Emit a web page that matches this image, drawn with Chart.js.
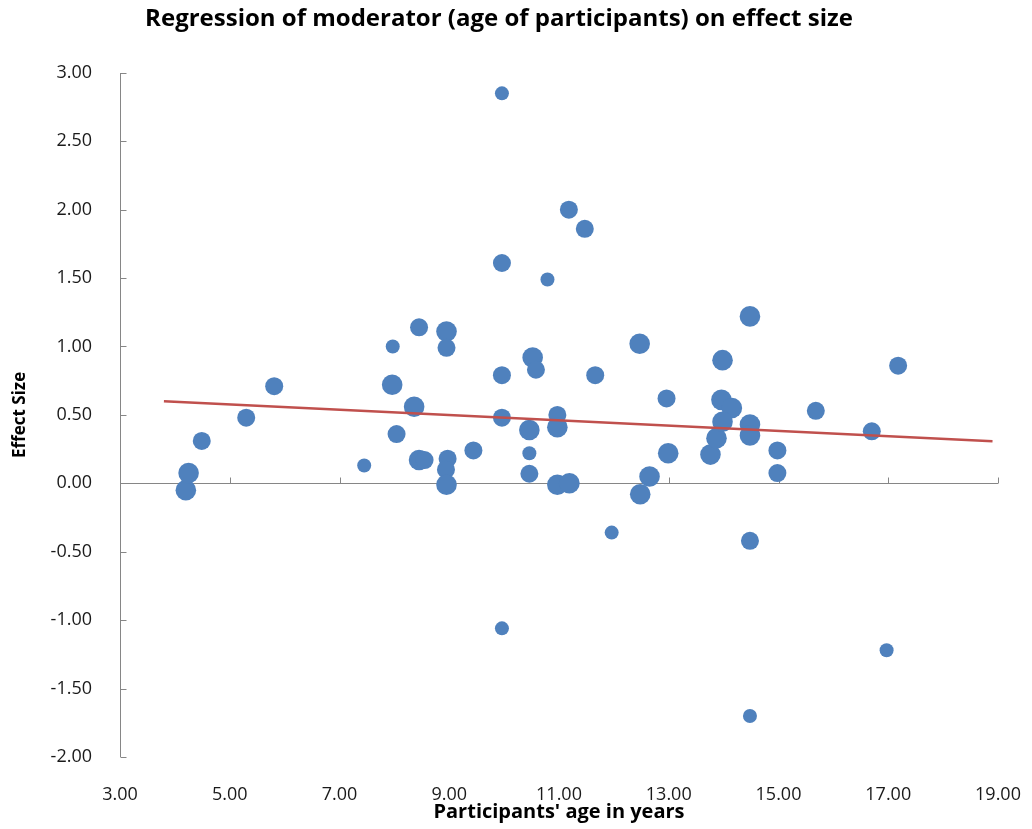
<!DOCTYPE html>
<html>
<head>
<meta charset="utf-8">
<title>Regression of moderator on effect size</title>
<script src="https://cdn.jsdelivr.net/npm/chart.js@4.4.1/dist/chart.umd.min.js"></script>
<style>
  html, body { margin: 0; padding: 0; background: #fff; }
  #wrap { width: 1032px; height: 829px; position: relative; }
</style>
</head>
<body>
<div id="wrap"><canvas id="ageChart"></canvas></div>
<script>
// ── Data ──────────────────────────────────────────
const ageYears = [
  4.20, 4.25, 4.49, 5.30, 5.81, 7.45, 7.97, 7.96, 8.04, 8.36,
  8.45, 8.45, 8.55, 8.95, 8.95, 8.97, 8.94, 8.95, 9.44, 9.96,
  9.96, 9.96, 9.96, 9.96, 10.52, 10.58, 10.46, 10.46, 10.46, 10.79,
  10.97, 10.97, 10.97, 11.19, 11.18, 11.47, 11.66, 11.96, 12.47, 12.48,
  12.65, 12.96, 12.99, 13.76, 13.87, 13.98, 13.96, 14.15, 13.98, 14.48,
  14.48, 14.48, 14.48, 14.48, 14.98, 14.98, 15.68, 16.70, 16.97, 17.18,
];
const effectSizes = [
  -0.05, 0.075, 0.31, 0.48, 0.71, 0.13, 1.00, 0.72, 0.36, 0.56,
  1.14, 0.17, 0.17, 1.11, 0.99, 0.18, 0.10, -0.01, 0.24, 2.85,
  1.61, 0.79, 0.48, -1.06, 0.92, 0.83, 0.39, 0.22, 0.07, 1.49,
  0.50, 0.41, -0.01, 0.00, 2.00, 1.86, 0.79, -0.36, 1.02, -0.08,
  0.05, 0.62, 0.22, 0.21, 0.33, 0.90, 0.61, 0.55, 0.45, 1.22,
  0.43, 0.35, -0.42, -1.70, 0.24, 0.075, 0.53, 0.38, -1.22, 0.86,
];
// relative study weight (1 = small, 2 = medium, 3 = large marker)
const studyWeights = [
  3, 3, 2, 2, 2, 1, 1, 3, 2, 3,
  2, 3, 2, 3, 2, 2, 2, 3, 2, 1,
  2, 2, 2, 1, 3, 2, 3, 1, 2, 1,
  2, 3, 3, 3, 2, 2, 2, 1, 3, 3,
  3, 2, 3, 3, 3, 3, 3, 3, 3, 3,
  3, 3, 2, 1, 2, 2, 2, 2, 1, 2,
];
const trendAges = [3.8, 18.9];
const trendEffects = [0.60, 0.307];

const xTickLabels = ['3.00', '5.00', '7.00', '9.00', '11.00', '13.00', '15.00', '17.00', '19.00'];
const yTickLabels = ['-2.00', '-1.50', '-1.00', '-0.50', '0.00', '0.50', '1.00', '1.50', '2.00', '2.50', '3.00'];

// ── Styling ───────────────────────────────────────
const BLUE = '#4f81bd';
const RED = '#c0504d';
const AXIS = '#868686';
const TEXT = '#1a1a1a';
const FONT = "'Open Sans', sans-serif";
const RADII = [7, 9, 10.3];

// axis line through y = 0 plus inward tick marks, like the spreadsheet original
const axisLines = {
  id: 'axisLines',
  beforeDatasetsDraw(chart) {
    const { ctx, chartArea, scales: { x, y } } = chart;
    const y0 = Math.round(y.getPixelForValue(0)) + 0.5;
    const xl = Math.round(chartArea.left) + 0.5;
    ctx.save();
    ctx.strokeStyle = AXIS;
    ctx.lineWidth = 1;
    ctx.beginPath();
    ctx.moveTo(xl, Math.round(chartArea.top));
    ctx.lineTo(xl, Math.round(chartArea.bottom));
    ctx.moveTo(chartArea.left, y0);
    ctx.lineTo(chartArea.right, y0);
    y.ticks.forEach((t) => {
      const py = Math.round(y.getPixelForValue(t.value)) + 0.5;
      ctx.moveTo(xl, py);
      ctx.lineTo(xl + 6, py);
    });
    x.ticks.forEach((t) => {
      const px = Math.round(x.getPixelForValue(t.value)) + 0.5;
      ctx.moveTo(px, y0);
      ctx.lineTo(px, y0 - 6);
    });
    ctx.stroke();
    ctx.restore();
  },
};

const points = ageYears.map((a, i) => ({ x: a, y: effectSizes[i] }));
const trend = trendAges.map((a, i) => ({ x: a, y: trendEffects[i] }));

new Chart(document.getElementById('ageChart'), {
  type: 'scatter',
  data: {
    datasets: [
      {
        type: 'line',
        label: 'Trend',
        data: trend,
        borderColor: RED,
        borderWidth: 2.5,
        pointRadius: 0,
        fill: false,
      },
      {
        label: 'Studies',
        data: points,
        backgroundColor: BLUE,
        borderWidth: 0,
        pointRadius: (c) => RADII[studyWeights[c.dataIndex] - 1],
        pointHoverRadius: (c) => RADII[studyWeights[c.dataIndex] - 1] + 1,
      },
    ],
  },
  options: {
    responsive: true,
    maintainAspectRatio: false,
    animation: false,
    layout: { padding: { left: 0, right: 34, top: 0, bottom: 0 } },
    plugins: {
      legend: { display: false },
      title: {
        display: true,
        text: 'Regression of moderator (age of participants) on effect size',
        color: '#000',
        font: { family: FONT, size: 24, weight: 'bold' },
        padding: { top: 5, bottom: 39 },
      },
      tooltip: { enabled: true },
    },
    scales: {
      x: {
        type: 'linear',
        min: 3,
        max: 19,
        grid: { display: false, drawTicks: false },
        border: { display: false },
        ticks: {
          stepSize: 2,
          padding: 27,
          color: TEXT,
          font: { family: FONT, size: 18 },
          callback: (v) => xTickLabels[Math.round((v - 3) / 2)],
        },
        title: {
          display: true,
          text: "Participants' age in years",
          color: '#000',
          font: { family: FONT, size: 20, weight: 'bold' },
          padding: { top: 0, bottom: 5 },
        },
        afterFit: (s) => {
          s.height = 72;
          s.paddingLeft = 0;
          s.paddingRight = 0;
        },
      },
      y: {
        type: 'linear',
        min: -2,
        max: 3,
        grid: { display: false, drawTicks: false },
        border: { display: false },
        ticks: {
          stepSize: 0.5,
          padding: 28,
          color: TEXT,
          font: { family: FONT, size: 18 },
          callback: (v) => yTickLabels[Math.round((v + 2) * 2)],
        },
        title: {
          display: true,
          text: 'Effect Size',
          color: '#000',
          font: { family: FONT, size: 17, weight: 'bold' },
          padding: { top: 10, bottom: 0 },
        },
        afterFit: (s) => { s.width = 120; },
      },
    },
  },
  plugins: [axisLines],
});
</script>
</body>
</html>
